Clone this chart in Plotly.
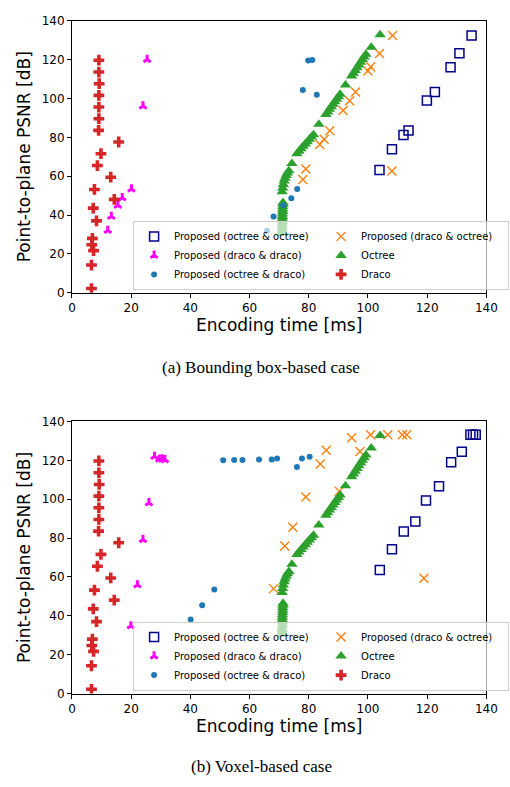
import plotly.graph_objects as go

# ---------------- data: (a) Bounding box-based case ----------------
a_oo_x = [135.0, 130.9, 127.9, 122.6, 119.9, 113.7, 112.0, 108.1, 103.9]
a_oo_y = [132.4, 123.3, 116.1, 103.4, 99.0, 83.5, 81.2, 73.9, 63.2]

a_dd_x = [25.4, 24.0, 20.1, 17.0, 15.5, 13.3, 12.1]
a_dd_y = [120.0, 96.1, 53.4, 48.9, 45.0, 39.3, 32.1]

a_od_x = [79.8, 81.2, 78.0, 82.7, 76.1, 74.1, 71.4, 68.1, 65.9]
a_od_y = [119.5, 119.8, 104.4, 101.9, 53.4, 48.7, 45.0, 39.3, 31.9]

a_do_x = [108.3, 103.9, 100.9, 100.0, 95.8, 93.8, 91.6, 87.1, 85.2, 83.7, 79.0, 78.0, 108.1]
a_do_y = [132.4, 123.2, 116.3, 114.1, 103.4, 98.8, 93.8, 83.4, 79.0, 76.3, 63.7, 58.3, 62.7]

# Octree baseline (same in both cases)
oct_x = [71.0, 71.0, 71.0, 71.0, 71.1, 71.1, 71.1, 71.1, 71.1, 71.2, 71.2, 71.2, 71.3, 71.3,
         71.0, 71.2, 71.4, 71.7, 72.0, 72.4, 72.8, 73.3, 74.3,
         76.0, 76.7, 77.4, 78.1, 78.8, 79.5, 80.2, 80.9, 81.6, 83.4,
         85.8, 86.4, 87.0, 87.6, 88.2, 88.8, 89.4, 90.0, 90.6, 92.4,
         94.5, 95.1, 95.7, 96.3, 96.9, 97.5, 98.1, 98.7, 99.3, 101.1,
         104.1]
oct_y = [30.5, 31.8, 33.0, 34.3, 35.5, 36.8, 38.0, 39.3, 40.5, 41.8, 43.0, 44.3, 45.5, 46.5,
         52.0, 54.0, 55.8, 57.5, 59.0, 60.4, 61.6, 62.8, 66.6,
         71.5, 72.8, 74.1, 75.4, 76.6, 77.8, 79.0, 80.2, 81.4, 86.8,
         91.8, 93.1, 94.4, 95.7, 97.0, 98.3, 99.6, 100.9, 102.2, 106.9,
         111.6, 113.0, 114.4, 115.8, 117.2, 118.6, 120.0, 121.4, 122.8, 126.4,
         132.8]

# Draco baseline (same in both cases)
dra_x = [9.1, 9.1, 9.2, 9.1, 9.1, 9.1, 9.0, 15.8, 9.8, 8.6, 13.1, 7.6, 14.3, 7.2, 8.3, 6.9, 6.7, 7.3, 6.6, 6.6]
dra_y = [119.7, 113.6, 107.6, 101.6, 95.6, 89.6, 83.6, 77.6, 71.6, 65.5, 59.5, 53.2, 48.1, 43.6, 37.0, 28.0, 24.7, 21.7, 14.3, 2.2]

# ---------------- data: (b) Voxel-based case ----------------
b_oo_x = [134.6, 135.5, 136.4, 131.7, 128.1, 124.0, 119.6, 116.0, 112.1, 108.1, 104.0]
b_oo_y = [133.2, 133.2, 133.2, 124.4, 119.0, 106.7, 99.4, 88.6, 83.4, 74.3, 63.6]

b_dd_x = [27.9, 29.5, 30.5, 31.4, 26.0, 24.0, 22.1, 19.9]
b_dd_y = [122.0, 120.6, 120.7, 120.3, 98.1, 79.2, 55.9, 34.8]

b_od_x = [51.1, 54.8, 57.6, 63.2, 67.5, 69.3, 76.0, 77.7, 80.3, 48.1, 44.0, 40.1]
b_od_y = [120.0, 120.2, 120.2, 120.5, 120.5, 120.9, 116.6, 120.9, 121.9, 53.5, 45.4, 38.1]

b_do_x = [94.5, 100.9, 106.7, 111.6, 113.1, 85.9, 97.3, 83.9, 90.3, 79.0, 74.6, 71.9, 68.1, 118.9]
b_do_y = [131.6, 133.2, 133.2, 133.2, 133.2, 125.2, 124.5, 118.1, 104.1, 101.1, 85.6, 75.9, 54.0, 59.4]

x_ticks = [0, 20, 40, 60, 80, 100, 120, 140]
y_ticks = [0, 20, 40, 60, 80, 100, 120, 140]

names = ["Proposed (octree & octree)", "Proposed (draco & octree)",
         "Proposed (draco & draco)", "Octree",
         "Proposed (octree & draco)", "Draco"]

NAVY = "#00008b"
MAG = "#ff00ff"
BLUE = "#1f77b4"
ORANGE = "#ff7f0e"
GREEN = "#2ca02c"
RED = "#d62728"

fig = go.Figure()


def add_panel(xa, ya, leg, oo, dd, od, do):
    # legend order (row-major, matplotlib 2-column layout)
    series = [
        (names[0], oo, dict(symbol="square-open", size=9, color=NAVY, line=dict(width=1.5, color=NAVY))),
        (names[1], do, dict(symbol="x-thin-open", size=9, color=ORANGE, line=dict(width=1.4, color=ORANGE))),
        (names[2], dd, dict(symbol="y-up-open", size=6, color=MAG, line=dict(width=3, color=MAG))),
        (names[3], (oct_x, oct_y), dict(symbol="triangle-up", size=10, color=GREEN, line=dict(width=0))),
        (names[4], od, dict(symbol="circle", size=6, color=BLUE, line=dict(width=0))),
        (names[5], (dra_x, dra_y), dict(symbol="cross", size=9, color=RED, line=dict(width=0))),
    ]
    for nm, (xs, ys), mk in series:
        fig.add_trace(go.Scatter(x=xs, y=ys, mode="markers", name=nm, marker=mk,
                                 xaxis=xa, yaxis=ya, legend=leg, showlegend=True))


add_panel("x", "y", "legend", (a_oo_x, a_oo_y), (a_dd_x, a_dd_y), (a_od_x, a_od_y), (a_do_x, a_do_y))
add_panel("x2", "y2", "legend2", (b_oo_x, b_oo_y), (b_dd_x, b_dd_y), (b_od_x, b_od_y), (b_do_x, b_do_y))

W, H = 510, 787
xdom = [70 / W, 497 / W]
ydom_a = [1 - 291 / H, 1 - 14 / H]
ydom_b = [1 - 699 / H, 1 - 422 / H]

tickfont = dict(family="DejaVu Sans", size=12, color="black")
titlefont = dict(family="DejaVu Sans", size=17, color="black")

ax_common = dict(showgrid=False, zeroline=False, showline=True, linecolor="black",
                 linewidth=1, mirror=True, ticks="outside", ticklen=4, tickcolor="black",
                 tickfont=tickfont, tickmode="array")

legend_common = dict(orientation="h", xanchor="left", yanchor="bottom",
                     font=dict(family="DejaVu Sans", size=10, color="black"),
                     bgcolor="rgba(255,255,255,0.65)", bordercolor="#d0d0d0", borderwidth=1,
                     entrywidth=142, entrywidthmode="pixels", traceorder="normal",
                     itemsizing="trace", tracegroupgap=0)

fig.update_layout(
    width=W, height=H, margin=dict(l=0, r=0, t=0, b=0),
    paper_bgcolor="white", plot_bgcolor="white",
    xaxis=dict(domain=xdom, range=[0, 140], tickvals=x_ticks, anchor="y",
               title=dict(text="Encoding time [ms]", font=titlefont, standoff=4), **ax_common),
    yaxis=dict(domain=ydom_a, range=[0, 140], tickvals=y_ticks, anchor="x",
               title=dict(text="Point-to-plane PSNR [dB]", font=titlefont, standoff=6), **ax_common),
    xaxis2=dict(domain=xdom, range=[0, 140], tickvals=x_ticks, anchor="y2",
                title=dict(text="Encoding time [ms]", font=titlefont, standoff=4), **ax_common),
    yaxis2=dict(domain=ydom_b, range=[0, 140], tickvals=y_ticks, anchor="x2",
                title=dict(text="Point-to-plane PSNR [dB]", font=titlefont, standoff=6), **ax_common),
    legend=dict(x=133 / W, y=1 - 288 / H, **legend_common),
    legend2=dict(x=133 / W, y=1 - 696 / H, **legend_common),
    annotations=[
        dict(text="(a) Bounding box-based case", x=265 / W, y=1 - 367 / H, xref="paper", yref="paper",
             showarrow=False, font=dict(family="Liberation Serif", size=17, color="black"),
             xanchor="center", yanchor="middle"),
        dict(text="(b) Voxel-based case", x=265 / W, y=1 - 773 / H, xref="paper", yref="paper",
             showarrow=False, font=dict(family="Liberation Serif", size=17, color="black"),
             xanchor="center", yanchor="middle"),
    ],
)

fig.write_html("out.html")
